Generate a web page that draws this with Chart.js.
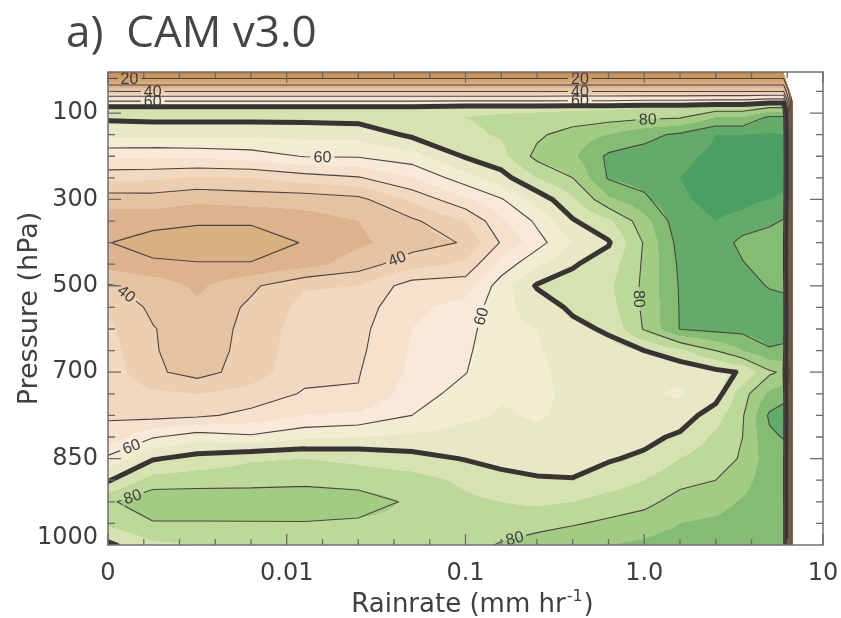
<!DOCTYPE html>
<html>
<head>
<meta charset="utf-8">
<title>a) CAM v3.0 – relative humidity composited by rain rate</title>
<script src="https://cdn.jsdelivr.net/npm/chart.js@4.4.1/dist/chart.umd.min.js"></script>
<style>
  html, body { margin: 0; padding: 0; background: #ffffff; }
  canvas { display: block; }
</style>
</head>
<body>
<canvas id="chart" width="841" height="618"></canvas>
<script>
// Rain-rate bins, log10(mm/hr); -3 holds the zero-rain bin
const rainLog = [-3.0, -2.75, -2.5, -2.2, -1.9, -1.6, -1.3, -1.0, -0.8, -0.6,
                 -0.4, -0.2, 0.0, 0.2, 0.4, 0.55, 0.7, 0.78, 0.83];

// Vertical coordinate of each row (axis units: 0 = 100 hPa, 4 = 300, 8 = 500, 12 = 700, 16 = 850)
const levelAxis = [-1.9, -1.6, -1.0, -0.55, -0.25, 0.2, 1, 2, 3, 4, 5, 6, 7, 8, 9,
                   10, 11, 12, 13, 14, 15, 16, 17, 18, 19, 20];

// Relative humidity (%), one row per level, one column per rain-rate bin
const rh = [
  [12,12,12,12,12,12,12,12,12,12,12,12,12,12,12,12,12,12,5],
  [20,20,20,20,20,20,20,20,20,20,20,20,20,20,20,20,20,20,5],
  [40,40,40,40,40,40,40,40,40,40,40,40,40,40,40,40,40,40,5],
  [60,60,60,60,60,60,60,60.5,60.5,60.5,61,61,62,62,63,63,66,66,5],
  [71.5,71.5,71.5,71.5,71.5,71.5,71.5,73,73,73,74,74,75,75,77,77,80,80,5],
  [71,71.5,71.5,71.5,71.5,72,73,75,76,77,77,78,79,79.5,85,85,91,91,5],
  [66,66,66,66,66.5,66.5,71,74,75.5,79,82.5,85,88.5,91,95,95,95.5,95,5],
  [56.3,56,56.5,57.5,60.3,60.5,63,70.5,73.5,81.5,84,91,92,94,96,96,96.5,96,5],
  [46.3,46,44.5,45,47.5,49.5,55,63,68,75,80,90.5,92,95,96.5,96.5,96.5,96,5],
  [37.3,37.5,36,37,37,38.5,46,54,59.5,67,74,84,89,94.5,96,96,95,94.5,5],
  [32,32,31,31,33,35,39,45,54,61,69.5,74,83,93.5,95,94,91.5,89.5,5],
  [30.2,27.5,26,26,30.5,34,37.5,40.5,50.5,58,65,69.5,80.5,92,94,88,86,86,5],
  [33,31,30.5,30.5,33,37.5,43,46,57,64,69.5,72.5,80.8,91,93.5,90.5,86.5,86,5],
  [40.5,38,34,39,44.5,45,52.5,53,62.5,70.5,72,74,81,90.5,93,93,89.5,89,5],
  [44,39,36,41,46.5,47.5,54,56.5,63.5,67,71,73,81,90.3,92.5,92.5,93,92,5],
  [46,40.3,37,41.5,47.5,48.5,55,58,64,65,68.5,70.8,80.5,90.2,91.5,91.5,92.5,92,5],
  [47,40.5,37,42,48,49,55.5,59,64,64.5,67.5,68,70,74,80,85,89.5,89,5],
  [48,41,38,42.5,48.5,49.7,56,59.8,64,64,66.5,67,66,66,68.5,70.5,79,81,5],
  [48.5,46,45,47,50.5,50.3,57.5,62,64.5,64,66,66.5,65.5,64.5,67.5,78,86,88,5],
  [49.5,48,49,51.5,55,56,60,64,65.5,64.5,66,67,66.5,67,73,79.5,90.8,92.5,5],
  [51.5,59.5,63,61,64,65,66,67,67,66,67,68,68.5,71,76,80,89,90.3,5],
  [61.5,69.5,72,74.5,75,74,72,69.7,68.5,68,68.5,69.5,71,75,78,80.5,88,87.5,5],
  [69.5,77,77.5,77.5,78,77.5,77,74,71.5,70.5,70.2,72.5,75,78.5,80,83,88,87.5,5],
  [79,84,84,84.5,85,83,79,76,75,74,75,77,78.5,82,83,85.5,88.5,88,5],
  [76,79.5,79.5,79.5,79.5,79,78.5,77,77.5,78.5,79.5,81,82.5,85,86,87.5,89,88.5,5],
  [69,74,75,75,75.5,76,77,78,80.5,82,84,85,86,87.5,88,89,89.5,89,5]
];

// Right-hand limit of the sampled rain-rate range, by level
const edgeLevel = [-1.9, -0.6, 20];
const edgeRain  = [0.78, 0.83, 0.83];

// Shading: 5 % bands from 0 to 100 %
const shadeStep = 5;
const shadeColors = [
  '#a86a34', '#b3773f', '#bf874d', '#c9965e', '#d2a46f',
  '#d9b080', '#ddb38f', '#e5c2a0', '#ecceb0', '#f1d8bf',
  '#f5e1cc', '#f8e9d8', '#f4ebd3', '#e7e9c6', '#d4e3b0',
  '#bdd999', '#a2cc84', '#84bd72', '#62ab68', '#49a062'
];

// Contour lines every 10 %, the 70 % line drawn heavy
const lineLevels = [10, 20, 30, 40, 50, 60, 70, 80, 90];
const heavyLevel = 70;

// Inline contour labels: value and an approximate spot on the line
const contourLabels = [
  { value: 20, rain: -2.88, level: -1.62 },
  { value: 40, rain: -2.75, level: -1.02 },
  { value: 60, rain: -2.75, level: -0.55 },
  { value: 20, rain: -0.36, level: -1.62 },
  { value: 40, rain: -0.36, level: -1.02 },
  { value: 60, rain: -0.36, level: -0.55 },
  { value: 60, rain: -1.80, level: 2.0 },
  { value: 40, rain: -1.39, level: 6.6 },
  { value: 40, rain: -2.91, level: 8.5 },
  { value: 60, rain: -0.96, level: 9.3 },
  { value: 80, rain: -0.01, level: 8.6 },
  { value: 60, rain: -2.88, level: 15.2 },
  { value: 80, rain: -2.88, level: 17.35 },
  { value: 80, rain: -0.73, level: 19.5 },
  { value: 80, rain: 0.02, level: 0.35 }
];

// Axis ticks
const xTickValues = [-3, -2, -1, 0, 1];
const xTickLabels = ['0', '0.01', '0.1', '1.0', '10'];
const yTickValues = [0, 4, 8, 12, 16, 19.65];
const yTickLabels = ['100', '300', '500', '700', '850', '1000'];

const titleText = 'a)  CAM v3.0';
const yTitle = 'Pressure (hPa)';

// ---------------------------------------------------------------------------

function hexToRgb(h) {
  return [parseInt(h.slice(1, 3), 16), parseInt(h.slice(3, 5), 16), parseInt(h.slice(5, 7), 16)];
}

function locate(arr, v) {
  const n = arr.length;
  if (v < arr[0] || v > arr[n - 1]) return -1;
  for (let k = 0; k < n - 2; k++) if (v <= arr[k + 1]) return k;
  return n - 2;
}

function edgeAt(L) {
  const k = locate(edgeLevel, L);
  if (k < 0) return L < edgeLevel[0] ? edgeRain[0] : edgeRain[edgeRain.length - 1];
  const t = (L - edgeLevel[k]) / (edgeLevel[k + 1] - edgeLevel[k]);
  return edgeRain[k] + t * (edgeRain[k + 1] - edgeRain[k]);
}

// Filled bands: bilinear field evaluated at each pixel through the scales
function paintField(chart) {
  const { ctx, chartArea: a, scales: { x, y } } = chart;
  const left = Math.round(a.left), top = Math.round(a.top);
  const w = Math.round(a.right) - left, h = Math.round(a.bottom) - top;
  const img = ctx.getImageData(left, top, w, h);
  const d = img.data;
  const rgb = shadeColors.map(hexToRgb);
  const colIdx = new Int32Array(w), colT = new Float64Array(w), colX = new Float64Array(w);
  for (let i = 0; i < w; i++) {
    const v = x.getValueForPixel(left + i + 0.5);
    const k = locate(rainLog, v);
    colX[i] = v; colIdx[i] = k;
    colT[i] = k < 0 ? 0 : (v - rainLog[k]) / (rainLog[k + 1] - rainLog[k]);
  }
  for (let j = 0; j < h; j++) {
    const L = y.getValueForPixel(top + j + 0.5);
    const r = locate(levelAxis, L);
    if (r < 0) continue;
    const u = (L - levelAxis[r]) / (levelAxis[r + 1] - levelAxis[r]);
    const lim = edgeAt(L);
    const row0 = rh[r], row1 = rh[r + 1];
    for (let i = 0; i < w; i++) {
      const k = colIdx[i];
      if (k < 0 || colX[i] > lim) continue;
      const t = colT[i];
      const v = (1 - u) * ((1 - t) * row0[k] + t * row0[k + 1]) +
                u * ((1 - t) * row1[k] + t * row1[k + 1]);
      let b = Math.floor(v / shadeStep);
      b = Math.max(0, Math.min(rgb.length - 1, b));
      const c = rgb[b], o = (j * w + i) * 4;
      d[o] = c[0]; d[o + 1] = c[1]; d[o + 2] = c[2]; d[o + 3] = 255;
    }
  }
  ctx.putImageData(img, left, top);
}

// Marching squares on the rectilinear grid, segments returned in pixels
function traceLevel(level, x, y) {
  const segs = [];
  const px = rainLog.map(v => x.getPixelForValue(v));
  const py = levelAxis.map(v => y.getPixelForValue(v));
  const adj = v => (v === level ? v + 1e-4 : v);
  const cross = (v1, v2, x1, y1, x2, y2) => {
    const t = (level - v1) / (v2 - v1);
    return [x1 + t * (x2 - x1), y1 + t * (y2 - y1)];
  };
  for (let j = 0; j < levelAxis.length - 1; j++) {
    for (let i = 0; i < rainLog.length - 1; i++) {
      const a = adj(rh[j][i]), b = adj(rh[j][i + 1]);
      const c = adj(rh[j + 1][i + 1]), e = adj(rh[j + 1][i]);
      const ed = [null, null, null, null];
      if ((a - level) * (b - level) < 0) ed[0] = cross(a, b, px[i], py[j], px[i + 1], py[j]);
      if ((b - level) * (c - level) < 0) ed[1] = cross(b, c, px[i + 1], py[j], px[i + 1], py[j + 1]);
      if ((e - level) * (c - level) < 0) ed[2] = cross(e, c, px[i], py[j + 1], px[i + 1], py[j + 1]);
      if ((a - level) * (e - level) < 0) ed[3] = cross(a, e, px[i], py[j], px[i], py[j + 1]);
      const hit = [0, 1, 2, 3].filter(k => ed[k]);
      if (hit.length === 2) {
        segs.push([...ed[hit[0]], ...ed[hit[1]]]);
      } else if (hit.length === 4) {
        const ctr = (a + b + c + e) / 4;
        if ((ctr - level) * (a - level) > 0) {
          segs.push([...ed[0], ...ed[1]]); segs.push([...ed[2], ...ed[3]]);
        } else {
          segs.push([...ed[3], ...ed[0]]); segs.push([...ed[1], ...ed[2]]);
        }
      }
    }
  }
  return segs;
}

// Snap each label onto its contour and orient it along the line
function placeLabels(segsByLevel, x, y, ctx) {
  const placed = [];
  for (const lab of contourLabels) {
    const segs = segsByLevel[lab.value] || [];
    const ax = x.getPixelForValue(lab.rain), ay = y.getPixelForValue(lab.level);
    let best = null, bd = Infinity;
    for (const s of segs) {
      const dx = s[2] - s[0], dy = s[3] - s[1];
      const l2 = dx * dx + dy * dy || 1e-9;
      let t = ((ax - s[0]) * dx + (ay - s[1]) * dy) / l2;
      t = Math.max(0, Math.min(1, t));
      const qx = s[0] + t * dx, qy = s[1] + t * dy;
      const dd = (qx - ax) ** 2 + (qy - ay) ** 2;
      if (dd < bd) { bd = dd; best = { qx, qy, dx, dy }; }
    }
    if (!best) continue;
    let sx = 0, sy = 0;
    for (const s of segs) {
      const mx = (s[0] + s[2]) / 2, my = (s[1] + s[3]) / 2;
      if ((mx - best.qx) ** 2 + (my - best.qy) ** 2 > 15 * 15) continue;
      let dx = s[2] - s[0], dy = s[3] - s[1];
      if (dx * best.dx + dy * best.dy < 0) { dx = -dx; dy = -dy; }
      sx += dx; sy += dy;
    }
    let ang = Math.atan2(sy, sx);
    if (ang > Math.PI / 2) ang -= Math.PI;
    if (ang <= -Math.PI / 2) ang += Math.PI;
    const text = String(lab.value);
    const tw = ctx.measureText(text).width;
    placed.push({ value: lab.value, x: best.qx, y: best.qy, ang, text, tw });
  }
  return placed;
}

const contourPlugin = {
  id: 'contourField',
  beforeDraw(chart) {
    const { ctx, chartArea: a, scales: { x, y } } = chart;
    paintField(chart);

    const segsByLevel = {};
    for (const lv of lineLevels) segsByLevel[lv] = traceLevel(lv, x, y);

    ctx.save();
    ctx.font = '16px "Liberation Sans", Arial, sans-serif';
    const labels = placeLabels(segsByLevel, x, y, ctx);

    // region actually covered by data
    ctx.beginPath();
    ctx.moveTo(x.getPixelForValue(rainLog[0]), y.getPixelForValue(edgeLevel[0]));
    for (let k = 0; k < edgeLevel.length; k++) {
      ctx.lineTo(x.getPixelForValue(edgeRain[k]), y.getPixelForValue(edgeLevel[k]));
    }
    ctx.lineTo(x.getPixelForValue(rainLog[0]), y.getPixelForValue(edgeLevel[edgeLevel.length - 1]));
    ctx.closePath();
    ctx.clip();

    for (const lv of lineLevels) {
      ctx.save();
      // leave a gap in the line where its label sits
      ctx.beginPath();
      ctx.rect(0, 0, chart.width, chart.height);
      for (const L of labels) {
        if (L.value !== lv) continue;
        const hw = L.tw / 2 + 3, hh = 6;
        const c = Math.cos(L.ang), s = Math.sin(L.ang);
        const pts = [[-hw, -hh], [hw, -hh], [hw, hh], [-hw, hh]].map(
          ([u, v]) => [L.x + u * c - v * s, L.y + u * s + v * c]);
        ctx.moveTo(pts[0][0], pts[0][1]);
        for (let k = 1; k < 4; k++) ctx.lineTo(pts[k][0], pts[k][1]);
        ctx.closePath();
      }
      ctx.clip('evenodd');

      ctx.beginPath();
      for (const s of segsByLevel[lv]) { ctx.moveTo(s[0], s[1]); ctx.lineTo(s[2], s[3]); }
      ctx.lineCap = 'round';
      ctx.lineJoin = 'round';
      if (lv === heavyLevel) { ctx.lineWidth = 5; ctx.strokeStyle = '#3a3333'; }
      else { ctx.lineWidth = 1.1; ctx.strokeStyle = '#4a4444'; }
      ctx.stroke();
      ctx.restore();
    }

    ctx.fillStyle = '#3c3c3c';
    ctx.textAlign = 'center';
    ctx.textBaseline = 'middle';
    for (const L of labels) {
      ctx.save();
      ctx.translate(L.x, L.y);
      ctx.rotate(L.ang);
      ctx.fillText(L.text, 0, 1);
      ctx.restore();
    }
    ctx.restore();
  },
  afterDraw(chart) {
    const { ctx, chartArea: a, scales: { x, y } } = chart;
    ctx.save();
    // frame
    ctx.strokeStyle = '#707070';
    ctx.lineWidth = 1.5;
    ctx.strokeRect(a.left, a.top, a.right - a.left, a.bottom - a.top);

    // inward tick marks on all four sides
    ctx.lineWidth = 1.3;
    ctx.strokeStyle = '#6a6a6a';
    ctx.beginPath();
    const nx = Math.round((x.max - x.min) / 0.2);
    for (let k = 0; k <= nx; k++) {
      const v = x.min + k * 0.2;
      const len = k % 5 === 0 ? 11 : 6;
      const p = x.getPixelForValue(v);
      ctx.moveTo(p, a.bottom); ctx.lineTo(p, a.bottom - len);
      ctx.moveTo(p, a.top); ctx.lineTo(p, a.top + len);
    }
    for (let v = Math.ceil(y.min); v < y.max; v++) {
      const major = v >= 0 && v <= 16 && v % 4 === 0;
      const len = major ? 13 : 7;
      const p = y.getPixelForValue(v);
      ctx.moveTo(a.left, p); ctx.lineTo(a.left + len, p);
      ctx.moveTo(a.right, p); ctx.lineTo(a.right - len, p);
    }
    ctx.stroke();

    // panel title
    ctx.fillStyle = '#454545';
    ctx.textAlign = 'left';
    ctx.textBaseline = 'alphabetic';
    ctx.font = '44px "Open Sans", sans-serif';
    ctx.fillText(titleText, 66, 47);

    // y axis title
    ctx.fillStyle = '#404040';
    ctx.font = '27px "DejaVu Sans", sans-serif';
    ctx.save();
    ctx.translate(37, (a.top + a.bottom) / 2);
    ctx.rotate(-Math.PI / 2);
    ctx.textAlign = 'center';
    ctx.fillText(yTitle, 0, 0);
    ctx.restore();

    // x axis title with superscript
    const main = 'Rainrate (mm hr', sup = '-1', close = ')';
    ctx.font = '26px "DejaVu Sans", sans-serif';
    const w1 = ctx.measureText(main).width, w3 = ctx.measureText(close).width;
    ctx.font = '16px "DejaVu Sans", sans-serif';
    const w2 = ctx.measureText(sup).width;
    const sx = (a.left + a.right) / 2 - (w1 + w2 + w3) / 2 + 6;
    const base = 612;
    ctx.textAlign = 'left';
    ctx.font = '26px "DejaVu Sans", sans-serif';
    ctx.fillText(main, sx, base);
    ctx.font = '16px "DejaVu Sans", sans-serif';
    ctx.fillText(sup, sx + w1 + 1, base - 11);
    ctx.font = '26px "DejaVu Sans", sans-serif';
    ctx.fillText(close, sx + w1 + w2 + 2, base);
    ctx.restore();
  }
};

new Chart(document.getElementById('chart'), {
  type: 'scatter',
  data: { datasets: [] },
  options: {
    responsive: false,
    animation: false,
    devicePixelRatio: 1,
    layout: { padding: { top: 72, right: 18, left: 0, bottom: 0 } },
    plugins: { legend: { display: false }, tooltip: { enabled: false }, title: { display: false } },
    scales: {
      x: {
        type: 'linear', min: -3, max: 1,
        grid: { display: false, drawTicks: false },
        border: { display: false },
        afterBuildTicks: s => { s.ticks = xTickValues.map(v => ({ value: v })); },
        afterFit: s => { s.height = 73; s.paddingLeft = 0; s.paddingRight = 0; },
        ticks: {
          autoSkip: false, maxRotation: 0, padding: 14,
          color: '#3e3e3e',
          font: { family: '"DejaVu Sans", sans-serif', size: 24 },
          callback: v => xTickLabels[xTickValues.indexOf(v)]
        }
      },
      y: {
        type: 'linear', min: -1.9, max: 20, reverse: true,
        grid: { display: false, drawTicks: false },
        border: { display: false },
        afterBuildTicks: s => { s.ticks = yTickValues.map(v => ({ value: v })); },
        afterFit: s => { s.width = 108; s.paddingTop = 0; s.paddingBottom = 0; },
        ticks: {
          autoSkip: false, padding: 10,
          color: '#3e3e3e',
          font: { family: '"DejaVu Sans", sans-serif', size: 24 },
          callback: v => yTickLabels[yTickValues.indexOf(v)]
        }
      }
    }
  },
  plugins: [contourPlugin]
});
</script>
</body>
</html>
